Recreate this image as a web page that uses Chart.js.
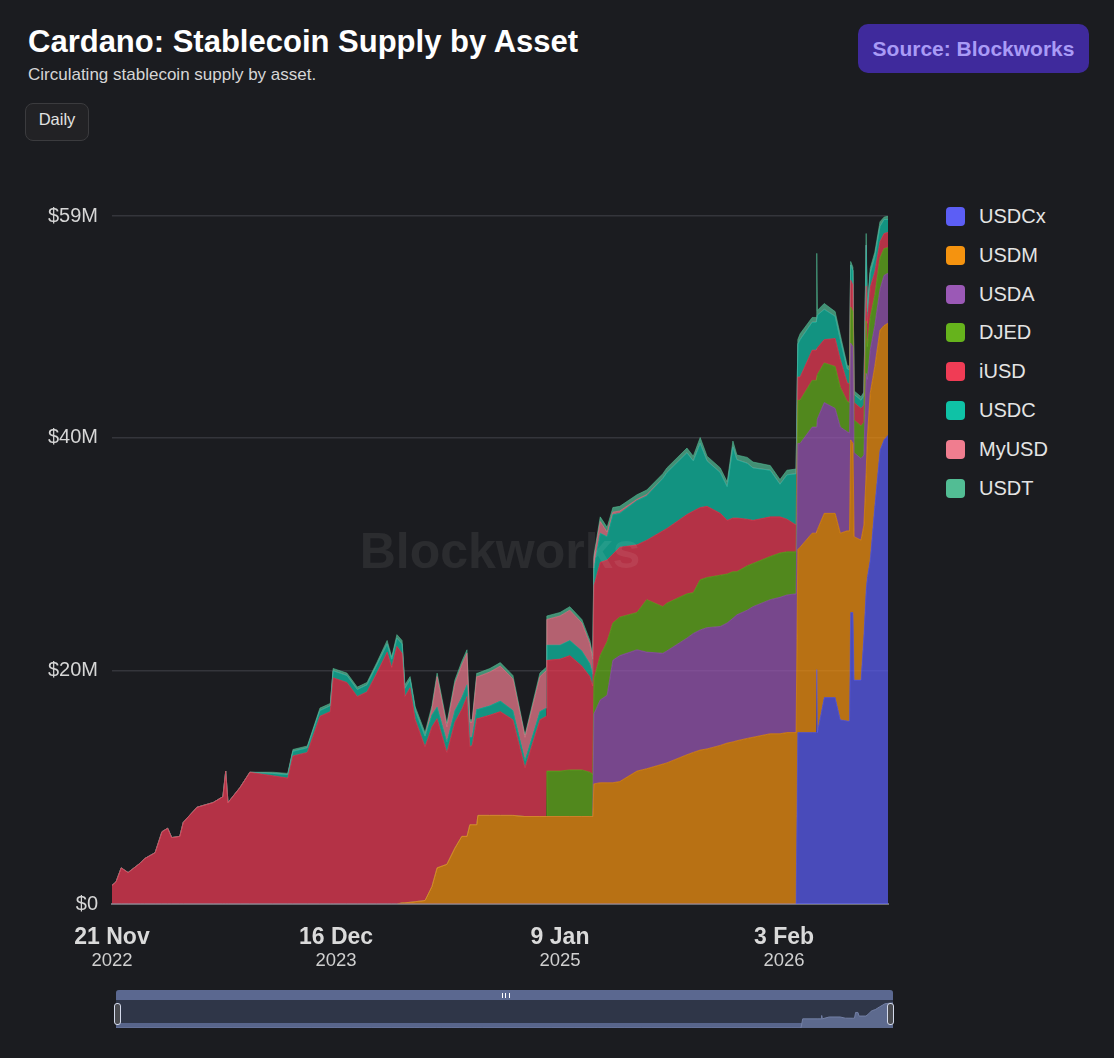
<!DOCTYPE html>
<html>
<head>
<meta charset="utf-8">
<title>Cardano: Stablecoin Supply by Asset</title>
<script src="https://cdn.jsdelivr.net/npm/chart.js@4.4.1/dist/chart.umd.min.js"></script>
<style>
  html, body { margin: 0; padding: 0; background: #1b1c20; }
  body { width: 1114px; height: 1058px; position: relative; overflow: hidden; font-family: "Liberation Sans", Arial, sans-serif; }
  #title { position: absolute; left: 28px; top: 26px; margin: 0; font-size: 31px; line-height: 1; font-weight: bold; color: #ffffff; }
  #subtitle { position: absolute; left: 28px; top: 66px; font-size: 17px; line-height: 1; color: #d6d6d6; }
  #daily { position: absolute; left: 25px; top: 103px; width: 62px; height: 36px; border: 1px solid #3b3b3e; border-radius: 8px; background: #222225; color: #e2e2e2; font-size: 16.5px; line-height: 1; text-align: center; box-sizing: content-box; }
  #daily span { display: block; padding-top: 7px; }
  #source { position: absolute; left: 858px; top: 24px; width: 231px; height: 49px; border-radius: 10px; background: #3f2a9c; color: #a99bf6; font-size: 21px; font-weight: bold; line-height: 49px; text-align: center; }
  #chartWrap { position: absolute; left: 0; top: 190px; width: 900px; height: 790px; }
  #legend { position: absolute; left: 946px; top: 0; }
  .item { position: absolute; left: 0; width: 160px; height: 20px; }
  .swatch { position: absolute; left: 0; top: 1px; width: 19px; height: 19px; border-radius: 4px; }
  .label { position: absolute; left: 33px; top: 0; font-size: 20px; line-height: 20px; color: #e4e4e4; white-space: nowrap; }
  #nav { position: absolute; left: 116px; top: 990px; width: 777px; height: 38px; background: #2f3648; border-radius: 3px; }
  #navTop { position: absolute; left: 0; top: 0; width: 777px; height: 10px; background: #5b6890; border-radius: 3px 3px 0 0; }
  #navBottom { position: absolute; left: 0; top: 33px; width: 777px; height: 5px; background: #58658b; }
  #grip { position: absolute; left: 386px; top: 3px; width: 6px; height: 5px; border-left: 1px solid #fff; border-right: 1px solid #fff; }
  #grip::after { content: ""; position: absolute; left: 2px; top: 0; width: 1px; height: 5px; background: #fff; }
  #navWrap { position: absolute; left: 116px; top: 1000px; width: 777px; height: 28px; }
  .handle { position: absolute; top: 1003px; width: 5px; height: 20px; background: #4a4b50; border: 1.5px solid #d3d9ea; border-radius: 3px; }
</style>
</head>
<body>
<div id="title">Cardano: Stablecoin Supply by Asset</div>
<div id="subtitle">Circulating stablecoin supply by asset.</div>
<div id="daily"><span>Daily</span></div>
<div id="source">Source: Blockworks</div>
<div id="chartWrap"><canvas id="supplyChart" width="900" height="790"></canvas></div>
<div id="legend"></div>
<div id="nav"><div id="navTop"><div id="grip"></div></div><div id="navBottom"></div></div>
<div id="navWrap"><canvas id="navChart" width="777" height="28"></canvas></div>
<div class="handle" style="left:114px"></div>
<div class="handle" style="left:887px"></div>
<script>
'use strict';

// days since 21 Nov 2022
const days = [0, 7, 16, 28, 49, 57, 75, 87, 97, 104, 118, 124, 148, 176, 193, 198, 202, 223, 240, 280,
  306, 315, 340, 362, 380, 385, 409, 427, 444, 461, 479, 487, 496, 505, 510, 519, 528, 545, 557, 566,
  583, 597, 609, 618, 623, 627, 635, 637, 658, 676, 698, 719, 745, 756, 757, 780, 797, 818, 832, 837,
  839, 850, 862, 872, 884, 914, 931, 959, 966, 1001, 1012, 1024, 1036, 1059, 1071, 1081, 1088, 1106, 1116, 1146,
  1163, 1175, 1191, 1194, 1198, 1219, 1226, 1227, 1228, 1240, 1259, 1268, 1280, 1284, 1286, 1290, 1292, 1304, 1309, 1313,
  1315, 1320, 1328, 1337, 1344, 1351];

// $M
const usdcx = [0, 0, 0, 0, 0, 0, 0, 0, 0, 0, 0, 0, 0, 0, 0, 0, 0, 0, 0, 0,
  0, 0, 0, 0, 0, 0, 0, 0, 0, 0, 0, 0, 0, 0, 0, 0, 0, 0, 0, 0,
  0, 0, 0, 0, 0, 0, 0, 0, 0, 0, 0, 0, 0, 0, 0, 0, 0, 0, 0, 0,
  0, 0, 0, 0, 0, 0, 0, 0, 0, 0, 0, 0, 0, 0, 0, 0, 0, 0, 0, 0,
  0, 0, 0, 14.7, 14.7, 14.7, 14.7, 20.1, 14.7, 17.7, 17.7, 15.8, 15.7, 15.7, 25.0, 25.0, 19.2, 19.2, 23.0, 27.0,
  28.0, 29.5, 34.1, 38.9, 39.8, 40.2];
const usdm = [0, 0, 0, 0, 0, 0, 0, 0, 0, 0, 0, 0, 0, 0, 0, 0, 0, 0, 0, 0,
  0, 0, 0, 0, 0, 0, 0, 0, 0, 0, 0, 0, 0, 0.1, 0.1, 0.15, 0.2, 0.3, 1.5, 3.1,
  3.4, 4.8, 5.8, 5.8, 6.8, 6.8, 6.8, 7.6, 7.6, 7.6, 7.6, 7.5, 7.5, 7.5, 7.5, 7.5, 7.5, 7.5, 7.5, 7.5,
  10.3, 10.4, 10.4, 10.4, 10.5, 11.4, 11.6, 12.0, 12.1, 12.8, 13.0, 13.2, 13.3, 13.6, 13.8, 13.9, 14.0, 14.2, 14.3, 14.6,
  14.6, 14.7, 14.7, 15.7, 15.9, 17.1, 17.1, 11.7, 17.4, 15.8, 15.8, 16.0, 16.3, 16.3, 14.8, 14.5, 12.3, 12.0, 9.5, 10.0,
  12.0, 14.3, 12.0, 10.3, 9.8, 9.6];
const usda = [0, 0, 0, 0, 0, 0, 0, 0, 0, 0, 0, 0, 0, 0, 0, 0, 0, 0, 0, 0,
  0, 0, 0, 0, 0, 0, 0, 0, 0, 0, 0, 0, 0, 0, 0, 0, 0, 0, 0, 0,
  0, 0, 0, 0, 0, 0, 0, 0, 0, 0, 0, 0, 0, 0, 0, 0, 0, 0, 0, 0,
  6.0, 7.1, 7.5, 10.5, 10.8, 10.4, 10.0, 9.5, 9.6, 10.0, 10.2, 10.3, 10.4, 10.2, 10.3, 10.6, 10.8, 11.0, 11.2, 11.5,
  11.7, 11.8, 11.9, 9.1, 8.9, 9.1, 9.1, 9.1, 9.5, 9.5, 9.0, 9.1, 8.5, 8.4, 8.3, 8.3, 7.2, 7.0, 6.0, 8.5,
  5.0, 3.7, 3.5, 3.5, 4.3, 4.3];
const djed = [0, 0, 0, 0, 0, 0, 0, 0, 0, 0, 0, 0, 0, 0, 0, 0, 0, 0, 0, 0,
  0, 0, 0, 0, 0, 0, 0, 0, 0, 0, 0, 0, 0, 0, 0, 0, 0, 0, 0, 0,
  0, 0, 0, 0, 0, 0, 0, 0, 0, 0, 0, 0, 0, 0, 3.9, 3.9, 4.0, 4.0, 3.8, 3.6,
  3.0, 3.8, 4.6, 3.2, 3.3, 3.2, 4.5, 4.0, 4.1, 3.8, 3.5, 4.3, 4.3, 4.4, 4.2, 4.0, 3.7, 3.8, 3.7, 3.7,
  3.8, 3.7, 3.6, 3.7, 3.7, 4.0, 4.0, 4.0, 3.8, 3.4, 3.6, 3.4, 2.6, 2.6, 3.1, 3.0, 2.8, 2.8, 2.8, 4.5,
  2.8, 2.8, 2.6, 2.7, 2.3, 2.2];
const iusd = [1.6, 1.9, 3.1, 2.7, 3.5, 3.9, 4.4, 6.2, 6.5, 5.7, 5.8, 7.0, 8.3, 8.7, 9.2, 11.4, 8.7, 10.0, 11.3, 11.0,
  10.8, 12.7, 13.0, 16.1, 16.5, 19.4, 19.0, 17.8, 18.2, 19.8, 21.6, 20.3, 22.1, 21.4, 17.7, 18.4, 15.6, 13.2, 13.7, 12.8,
  9.6, 10.8, 10.9, 12.0, 6.7, 6.8, 9.1, 8.3, 8.6, 8.9, 8.2, 4.2, 8.3, 8.6, 9.5, 9.6, 9.8, 8.9, 8.2, 7.6,
  8.0, 8.0, 7.0, 5.9, 6.0, 5.8, 5.1, 6.5, 6.4, 6.8, 7.0, 6.2, 6.1, 5.3, 4.6, 4.6, 4.6, 4.0, 3.7, 3.4,
  3.1, 2.8, 2.3, 2.0, 2.0, 2.6, 2.6, 2.6, 2.3, 2.0, 2.4, 2.4, 1.6, 1.6, 2.3, 2.3, 1.5, 1.5, 1.5, 3.0,
  2.0, 2.6, 2.0, 1.4, 1.3, 1.3];
const usdc = [0, 0, 0, 0, 0, 0, 0, 0, 0, 0, 0, 0, 0, 0, 0, 0, 0, 0, 0, 0.2,
  0.3, 0.4, 0.4, 0.5, 0.5, 0.6, 0.6, 0.6, 0.6, 0.7, 0.7, 0.7, 0.7, 0.8, 0.7, 0.7, 0.8, 0.9, 1.0, 1.0,
  0.9, 1.0, 1.0, 1.0, 0.8, 0.7, 0.8, 0.8, 0.8, 0.9, 0.8, 0.6, 0.7, 0.7, 1.3, 1.2, 1.3, 1.3, 1.1, 1.0,
  1.5, 2.5, 2.0, 3.4, 2.9, 3.8, 3.8, 4.5, 4.8, 5.3, 4.3, 5.5, 3.9, 3.5, 2.9, 6.1, 5.0, 4.8, 4.5, 4.0,
  2.8, 3.8, 4.4, 2.8, 3.2, 2.4, 2.4, 2.4, 2.8, 2.6, 1.9, 1.7, 1.2, 1.2, 1.3, 1.2, 0.7, 0.7, 0.8, 3.5,
  1.0, 1.2, 1.3, 1.3, 1.2, 1.1];
const myusd = [0, 0, 0, 0, 0, 0, 0, 0, 0, 0, 0, 0, 0, 0, 0, 0, 0, 0, 0, 0,
  0, 0, 0, 0, 0, 0, 0, 0, 0, 0, 0, 0, 0, 0, 0, 0, 0, 0, 0.5, 2.6,
  1.3, 2.3, 2.8, 2.7, 1.3, 1.3, 2.8, 2.8, 2.9, 3.0, 2.7, 2.0, 3.0, 3.2, 2.2, 2.5, 2.6, 2.4, 1.7, 1.3,
  0.8, 1.0, 0.4, 0.2, 0.2, 0.1, 0.1, 0, 0, 0, 0, 0, 0, 0, 0, 0, 0, 0, 0, 0,
  0, 0, 0, 0, 0, 0, 0, 0, 0, 0, 0, 0, 0, 0, 0, 0, 0, 0, 0, 0,
  0, 0, 0, 0, 0, 0];
const usdt = [0, 0, 0, 0, 0, 0, 0, 0, 0, 0, 0, 0, 0, 0, 0, 0, 0, 0, 0, 0.1,
  0.1, 0.15, 0.15, 0.2, 0.2, 0.2, 0.2, 0.2, 0.2, 0.2, 0.3, 0.2, 0.3, 0.3, 0.3, 0.25, 0.3, 0.3, 0.3, 0.3,
  0.3, 0.3, 0.3, 0.3, 0.2, 0.2, 0.3, 0.3, 0.3, 0.3, 0.3, 0.2, 0.3, 0.3, 0.3, 0.3, 0.3, 0.3, 0.3, 0.3,
  0.3, 0.4, 0.4, 0.4, 0.4, 0.4, 0.4, 0.4, 0.4, 0.4, 0.4, 0.5, 0.4, 0.4, 0.4, 0.5, 0.4, 0.5, 0.5, 0.4,
  0.4, 0.4, 0.4, 0.4, 0.5, 0.4, 0.4, 5.9, 0.4, 0.5, 0.4, 0.4, 0.3, 0.3, 0.3, 0.3, 0.3, 0.3, 0.3, 1.0,
  0.3, 0.4, 0.4, 0.4, 0.2, 0.3];

const seriesNames = ['USDCx', 'USDM', 'USDA', 'DJED', 'iUSD', 'USDC', 'MyUSD', 'USDT'];
const seriesColors = ['#5c5ef5', '#f5930f', '#9b59b6', '#66b31c', '#f03c55', '#0fc2a6', '#f07d8f', '#52bd94'];
const seriesValues = [usdcx, usdm, usda, djed, iusd, usdc, myusd, usdt];

const tickDays = [0, 390, 780, 1170];
const tickDayLabels = ['21 Nov', '16 Dec', '9 Jan', '3 Feb'];
const tickYearLabels = ['2022', '2023', '2025', '2026'];
const yTicks = [0, 20, 40, 59];
const yTickLabels = ['$0', '$20M', '$40M', '$59M'];

const lastDay = 1351;
const fontFamily = '"Liberation Sans", Arial, sans-serif';

function withAlpha(hex, a) {
    const n = parseInt(hex.slice(1), 16);
    return `rgba(${(n >> 16) & 255}, ${(n >> 8) & 255}, ${n & 255}, ${a})`;
}

// legend on the right
const legend = document.getElementById('legend');
for (let i = 0; i < seriesNames.length; i++) {
    let item = document.createElement('div');
    item.className = 'item';
    item.style.top = (206 + i * 38.8) + 'px';
    let swatch = document.createElement('div');
    swatch.className = 'swatch';
    swatch.style.background = seriesColors[i];
    let label = document.createElement('div');
    label.className = 'label';
    label.textContent = seriesNames[i];
    item.appendChild(swatch);
    item.appendChild(label);
    legend.appendChild(item);
}

const datasets = seriesNames.map((name, i) => ({
    label: name,
    data: days.map((d, j) => ({ x: d, y: seriesValues[i][j] })),
    fill: i === 0 ? 'origin' : '-1',
    backgroundColor: withAlpha(seriesColors[i], 0.72),
    borderColor: withAlpha(seriesColors[i], 0.72),
    borderWidth: 0.8,
    pointRadius: 0,
    tension: 0,
}));

const watermark = {
    id: 'watermark',
    afterDatasetsDraw(chart) {
        const { ctx, chartArea } = chart;
        ctx.save();
        ctx.font = `bold 50px ${fontFamily}`;
        ctx.fillStyle = 'rgba(255, 255, 255, 0.07)';
        ctx.textAlign = 'center';
        ctx.textBaseline = 'middle';
        ctx.fillText('Blockworks', (chartArea.left + chartArea.right) / 2, chartArea.top + 338);
        ctx.restore();
    }
};

function fixedTicks(values) {
    return scale => { scale.ticks = values.map(v => ({ value: v })); };
}

new Chart(document.getElementById('supplyChart'), {
    type: 'line',
    data: { datasets: datasets },
    options: {
        responsive: false,
        animation: false,
        layout: { padding: { left: 0, right: 12, top: 25, bottom: 6 } },
        plugins: { legend: { display: false }, tooltip: { enabled: false } },
        scales: {
            x: {
                type: 'linear',
                min: 0,
                max: lastDay,
                weight: 0,
                afterBuildTicks: fixedTicks(tickDays),
                afterFit: scale => { scale.height = 44; },
                grid: { display: false, drawTicks: false },
                border: { display: true, color: '#6e6f75', width: 2 },
                ticks: {
                    padding: 20,
                    color: '#dadada',
                    maxRotation: 0,
                    autoSkip: false,
                    font: { family: fontFamily, size: 23, weight: 'bold' },
                    callback: (v, i) => tickDayLabels[i],
                },
            },
            x2: {
                type: 'linear',
                position: 'bottom',
                min: 0,
                max: lastDay,
                weight: 1,
                afterBuildTicks: fixedTicks(tickDays),
                afterFit: scale => { scale.height = 26; },
                grid: { display: false, drawTicks: false },
                border: { display: false },
                ticks: {
                    padding: 2,
                    color: '#cfcfcf',
                    maxRotation: 0,
                    autoSkip: false,
                    font: { family: fontFamily, size: 18.5 },
                    callback: (v, i) => tickYearLabels[i],
                },
            },
            y: {
                stacked: true,
                min: 0,
                max: 59,
                afterBuildTicks: fixedTicks(yTicks),
                afterFit: scale => { scale.width = 112; },
                grid: {
                    color: ctx => ctx.tick && ctx.tick.value === 0 ? 'rgba(0,0,0,0)' : '#34353b',
                    lineWidth: 1.5,
                    drawTicks: false,
                },
                border: { display: false },
                ticks: {
                    padding: 14,
                    color: '#d6d6d6',
                    font: { family: fontFamily, size: 20 },
                    callback: (v, i) => yTickLabels[i],
                },
            },
        },
    },
    plugins: [watermark],
});

// navigator preview (USDCx)
new Chart(document.getElementById('navChart'), {
    type: 'line',
    data: {
        datasets: [{
            data: days.map((d, j) => ({ x: d, y: usdcx[j] })),
            fill: 'origin',
            backgroundColor: '#5d6a8e',
            borderColor: '#7380a6',
            borderWidth: 1,
            pointRadius: 0,
            tension: 0,
        }],
    },
    options: {
        responsive: false,
        animation: false,
        layout: { padding: 0 },
        plugins: { legend: { display: false }, tooltip: { enabled: false } },
        scales: {
            x: { type: 'linear', display: false, min: 0, max: lastDay },
            y: { display: false, min: 0, max: 45 },
        },
    },
});
</script>
</body>
</html>
